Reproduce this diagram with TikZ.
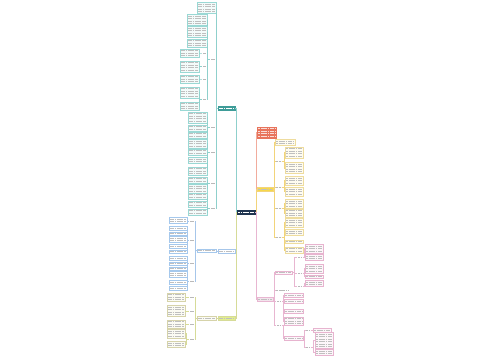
\documentclass[tikz,border=0pt]{standalone}
\usepackage{xcolor}
\usepackage{tikz}
\usetikzlibrary{calc}

\definecolor{navy}{HTML}{1F3550}
\definecolor{tealc}{HTML}{8FD0CC}
\definecolor{tealb}{HTML}{9AD8D4}
\definecolor{tealf}{HTML}{F3FBFA}
\definecolor{tealn}{HTML}{3E9C98}
\definecolor{bluec}{HTML}{A6C6EA}
\definecolor{blueb}{HTML}{A5C8EC}
\definecolor{olivec}{HTML}{D6DB98}
\definecolor{oliveb}{HTML}{D6D3AA}
\definecolor{olivef}{HTML}{FBFBF3}
\definecolor{olivel}{HTML}{E2EE8E}
\definecolor{coral}{HTML}{E8745C}
\definecolor{yelc}{HTML}{F2D47A}
\definecolor{yelb}{HTML}{EEDC9E}
\definecolor{yelf}{HTML}{FFFCF0}
\definecolor{yell}{HTML}{F7D84A}
\definecolor{pinkc}{HTML}{E8B6D1}
\definecolor{pinkb}{HTML}{E7B4CF}
\definecolor{pinkf}{HTML}{FDF6FA}
\definecolor{pinkl}{HTML}{F2E4EC}

\tikzset{
  tx/.style 2 args={path picture={
      \foreach \k in {1,...,#1}
        \draw[line width=1pt, dash pattern=on 1.8pt off 0.5pt, #2]
          ([xshift=1.2pt,yshift={0.75pt-\k*2.5pt}]path picture bounding box.north west) --
          ([xshift=-1.2pt,yshift={0.75pt-\k*2.5pt}]path picture bounding box.north east);}},
  tbox/.style={rectangle, inner sep=0pt, line width=0.5pt, minimum height={#1*2.5pt+1pt}, tx={#1}{gray!50}},
  lab/.style={rectangle, inner sep=0pt, minimum height=3.5pt, tx={1}{gray!55}},
  tealbox/.style={tbox=#1, draw=tealb, fill=tealf},
  bluebox/.style={tbox=#1, draw=blueb, fill=white},
  olivebox/.style={tbox=#1, draw=oliveb, fill=olivef},
  yelbox/.style={tbox=#1, draw=yelb, fill=yelf},
  pinkbox/.style={tbox=#1, draw=pinkb, fill=pinkf},
  tealline/.style={draw=tealc, line width=0.5pt},
  blueline/.style={draw=bluec, line width=0.5pt},
  oliveline/.style={draw=olivec, line width=0.5pt},
  yelline/.style={draw=yelc, line width=0.5pt},
  pinkline/.style={draw=pinkc, line width=0.5pt}
}

\begin{document}
\begin{tikzpicture}[x=1pt, y={(0pt,-1pt)}]
	%page
	\fill[white] (0,0) rectangle (500,360);
	\useasboundingbox (0,0) rectangle (500,360);

	%centre and first level
	\node[tbox=1, fill=navy, draw=navy, tx={1}{white}, minimum width=18pt] (ctr) at (246,212) {};
	\node[tbox=1, fill=tealn, draw=tealn, tx={1}{white}, minimum width=17pt, anchor=east] (tl) at (235,108) {};
	\node[tbox=1, fill=white, draw=bluec, minimum width=17pt, anchor=east] (bl) at (235,251) {};
	\node[tbox=1, fill=olivel, draw=olivec, minimum width=17pt, anchor=east] (ol) at (235,318) {};
	\node[tbox=4, fill=coral, draw=coral, tx={4}{white!75!coral}, minimum width=19pt, anchor=west] (rd) at (257,132.5) {};
	\node[tbox=1, fill=yell, draw=yelc, minimum width=16pt, anchor=west] (yl) at (257,189) {};
	\node[tbox=1, fill=pinkl, draw=pinkc, minimum width=16pt, anchor=west] (pk) at (257,299) {};

	\foreach \nm/\col in {tl/tealc, bl/bluec, ol/olivec}
		\draw[\col, line width=0.5pt] (ctr.west) -- ++(-1,0) |- (\nm.east);
	\foreach \nm/\col in {rd/coral!60, yl/yelc, pk/pinkc}
		\draw[\col, line width=0.5pt] (ctr.east) -- ++(1,0) |- (\nm.west);

	%top left branch
	\node[tealbox=4, minimum width=19pt, anchor=east] (t0) at (216,8) {};
	\draw[tealline] (tl.west) -- ++(-1,0) |- (t0.east);
	\foreach \nm/\y in {la/59, lb/127, lc/152, ld/183, le/208}{
		\node[lab, minimum width=6pt, anchor=east] (\nm) at (216,\y) {};
		\draw[tealline] (tl.west) -- ++(-1,0) |- (\nm.east);
	}
	\foreach \y/\n [count=\i] in {20/4, 32/4, 43/3}{
		\node[tealbox=\n, minimum width=20pt, anchor=east] (a\i) at (207,\y) {};
		\draw[tealline] (la.west) -- ++(-2,0) |- (a\i.east);
	}
	\foreach \y [count=\i] in {53, 66.5, 79, 99}{
		\node[lab, minimum width=5pt, anchor=east] (sa\i) at (207,\y) {};
		\draw[tealline] (la.west) -- ++(-2,0) |- (sa\i.east);
	}
	\foreach \p/\y/\n [count=\i] in {sa1/53/3, sa2/66.5/4, sa3/79/3, sa4/92.5/4, sa4/106/3}{
		\node[tealbox=\n, minimum width=19pt, anchor=east] (aa\i) at (199,\y) {};
		\draw[tealline] (\p.west) -- ++(-2,0) |- (aa\i.east);
	}
	\foreach \p/\y/\n [count=\i] in {lb/117.5/4, lb/128/2, lb/135/2, lc/143.5/3, lc/152/2, lc/160.5/2, lc/171/3,
			ld/180/2, ld/188.5/3, le/196/2, le/204/2, le/212/2}{
		\node[tealbox=\n, minimum width=19pt, anchor=east] (b\i) at (207,\y) {};
		\draw[tealline] (\p.west) -- ++(-2,0) |- (b\i.east);
	}

	%lower left branch, blue
	\node[bluebox=1, minimum width=19pt, anchor=east] (bb) at (216,250.5) {};
	\draw[blueline] (bl.west) -- ++(-1,0) |- (bb.east);
	\foreach \y [count=\i] in {221, 240, 263, 281}{
		\node[lab, minimum width=6pt, anchor=east] (ba\i) at (195,\y) {};
		\draw[blueline] (bb.west) -- ++(-1,0) |- (ba\i.east);
	}
	\foreach \p/\y/\n [count=\i] in {ba1/220.5/2, ba2/228/1, ba2/233.5/1, ba2/239.5/2, ba2/246/1, ba2/251.5/1,
			ba3/258/1, ba3/263.5/1, ba3/268.5/1, ba4/274.5/2, ba4/282/1, ba4/288/1}{
		\node[bluebox=\n, minimum width=18pt, anchor=east] (c\i) at (187,\y) {};
		\draw[blueline] (\p.west) -- ++(-1,0) |- (c\i.east);
	}

	%lower left branch, olive
	\node[olivebox=1, minimum width=19pt, anchor=east] (ob) at (216,318) {};
	\draw[oliveline] (ol.west) -- ++(-1,0) |- (ob.east);
	\foreach \y [count=\i] in {297, 311, 324, 339}{
		\node[lab, minimum width=6pt, anchor=east] (oa\i) at (195,\y) {};
		\draw[oliveline] (ob.west) -- ++(-1,0) |- (oa\i.east);
	}
	\foreach \p/\y/\n [count=\i] in {oa1/297/3, oa2/311/4, oa3/324/3, oa4/333.5/3, oa4/344.5/2}{
		\node[olivebox=\n, minimum width=18pt, anchor=east] (d\i) at (185,\y) {};
		\draw[oliveline] (\p.west) -- ++(-2,0) |- (d\i.east);
	}

	%right branch, yellow
	\node[yelbox=2, minimum width=20pt, anchor=west] (y0) at (275,142.5) {};
	\draw[yelline] (yl.east) -- ++(1,0) |- (y0.west);
	\foreach \y [count=\i] in {161, 187, 208, 237}{
		\node[lab, minimum width=7pt, anchor=west] (ya\i) at (275,\y) {};
		\draw[yelline] (yl.east) -- ++(1,0) |- (ya\i.west);
	}
	\foreach \p/\y/\n [count=\i] in {ya1/152.5/4, ya1/168/4, ya2/180.5/3, ya2/191.5/3, ya3/203.5/3, ya3/213/3,
			ya4/222.5/3, ya4/232.5/2, ya4/241.5/1, ya4/250/2}{
		\node[yelbox=\n, minimum width=18pt, anchor=west] (e\i) at (285,\y) {};
		\draw[yelline] (\p.east) -- ++(2,0) |- (e\i.west);
	}

	%right branch, pink
	\node[pinkbox=1, minimum width=17pt, anchor=west] (pb1) at (275,272.5) {};
	\node[lab, minimum width=15pt, anchor=west] (pb2) at (275,290) {};
	\node[lab, minimum width=6pt, anchor=west] (pl1) at (276,301) {};
	\node[lab, minimum width=6pt, anchor=west] (pl2) at (276,325) {};
	\foreach \nm in {pb1, pb2, pl1, pl2}
		\draw[pinkline] (pk.east) -- ++(1,0) |- (\nm.west);
	\foreach \y [count=\i] in {257, 273, 286}{
		\node[lab, minimum width=6pt, anchor=west] (pa\i) at (297,\y) {};
		\draw[pinkline] (pb1.east) -- ++(2,0) |- (pa\i.west);
	}
	\foreach \p/\y/\n [count=\i] in {pa1/248.5/3, pa1/257.5/2, pa2/268.5/3, pa2/276.5/1, pa3/283.5/2}{
		\node[pinkbox=\n, minimum width=18pt, anchor=west] (f\i) at (305,\y) {};
		\draw[pinkline] (\p.east) -- ++(1,0) |- (f\i.west);
	}
	\foreach \y/\n [count=\i] in {295/1, 301/1, 311/1, 321/3}{
		\node[pinkbox=\n, minimum width=19pt, anchor=west] (g\i) at (284,\y) {};
		\draw[pinkline] (pl1.east) -- ++(1,0) |- (g\i.west);
	}
	\node[pinkbox=1, minimum width=19pt, anchor=west] (pc) at (284,338) {};
	\draw[pinkline] (pl2.east) -- ++(1,0) |- (pc.west);
	\foreach \y [count=\i] in {330, 347}{
		\node[lab, minimum width=6pt, anchor=west] (pc\i) at (305,\y) {};
		\draw[pinkline] (pc.east) -- ++(1,0) |- (pc\i.west);
	}
	\node[pinkbox=1, minimum width=18pt, anchor=west] (h1) at (313,330) {};
	\draw[pinkline] (pc1.east) -- ++(1,0) |- (h1.west);
	\foreach \y/\n [count=\i from 2] in {340.5/6, 352.5/2}{
		\node[pinkbox=\n, minimum width=18pt, anchor=west] (h\i) at (315,\y) {};
		\draw[pinkline] (pc2.east) -- ++(2,0) |- (h\i.west);
	}
\end{tikzpicture}
\end{document}
